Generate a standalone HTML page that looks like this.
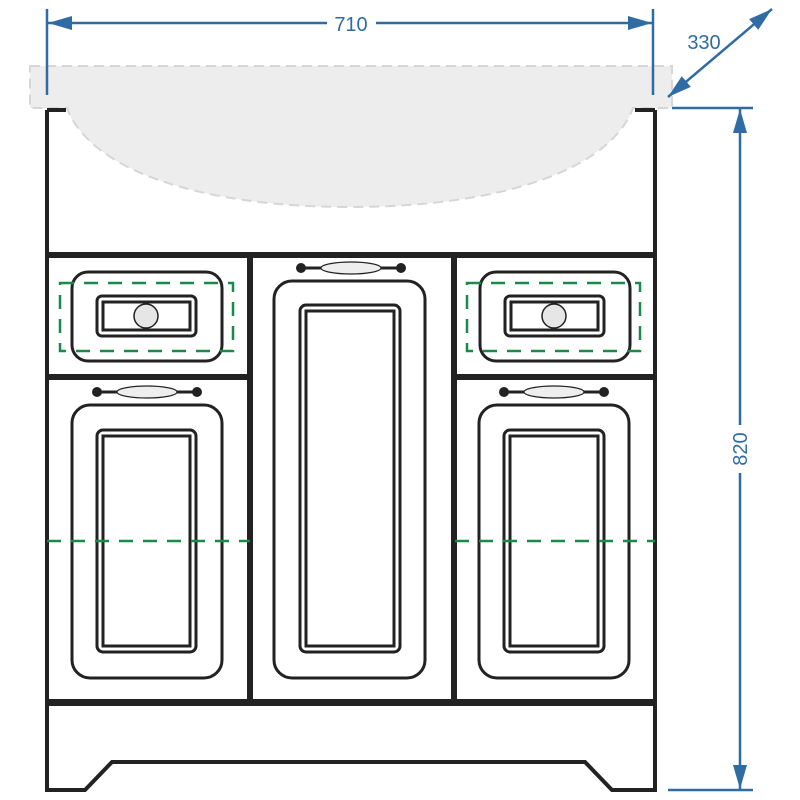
<!DOCTYPE html>
<html><head><style>body{margin:0;background:#fff}svg{display:block}</style></head><body>
<svg width="800" height="800" viewBox="0 0 800 800" xmlns="http://www.w3.org/2000/svg">
<defs>
<marker id="a" viewBox="0 0 10 10" refX="10" refY="5" markerWidth="8" markerHeight="8" markerUnits="userSpaceOnUse" orient="auto-start-reverse"><path d="M0,0L10,5L0,10z" fill="#2f6ca4"/></marker>
<marker id="b" viewBox="0 0 24 14" refX="24" refY="7" markerWidth="24" markerHeight="14" markerUnits="userSpaceOnUse" orient="auto-start-reverse"><path d="M0,0L24,7L0,14z" fill="#2f6ca4"/></marker>
</defs>
<!-- countertop -->
<path d="M30,66H672V108H633C610,170 500,207 350,207C200,207 90,170 67,108H30Z" fill="#ecedec" stroke="#d6d6d6" stroke-width="2" stroke-dasharray="10,6"/>
<g stroke="#222" stroke-width="4" fill="none">
<path d="M47,110V790H85L112,762H585L612,790H655V110"/>
<line x1="47" y1="110" x2="66" y2="110"/><line x1="635" y1="110" x2="655" y2="110"/>
</g>
<g fill="#222">
<rect x="47" y="252" width="608" height="6"/>
<rect x="247" y="252" width="6" height="452"/>
<rect x="451" y="252" width="6" height="452"/>
<rect x="47" y="374" width="202" height="6"/>
<rect x="455" y="374" width="200" height="6"/>
<rect x="47" y="699" width="608" height="7"/>
</g>
<g stroke="#222" stroke-width="3" fill="none">
<!-- drawers -->
<rect x="72" y="272" width="150" height="89" rx="16"/>
<rect x="97" y="296" width="99" height="40" rx="5"/>
<rect x="103" y="302" width="87" height="28"/>
<rect x="480" y="272" width="150" height="89" rx="16"/>
<rect x="505" y="296" width="99" height="40" rx="5"/>
<rect x="511" y="302" width="87" height="28"/>
<!-- doors -->
<rect x="72" y="405" width="150" height="273" rx="18"/>
<rect x="97" y="430" width="99" height="222" rx="6"/>
<rect x="103" y="436" width="87" height="210"/>
<rect x="479" y="405" width="150" height="273" rx="18"/>
<rect x="504" y="430" width="100" height="222" rx="6"/>
<rect x="510" y="436" width="88" height="210"/>
<rect x="274" y="281" width="151" height="397" rx="18"/>
<rect x="300" y="305" width="100" height="347" rx="6"/>
<rect x="306" y="311" width="88" height="335"/>
</g>
<g fill="#e6e6e6" stroke="#222" stroke-width="1.5">
<circle cx="146" cy="316" r="12"/><circle cx="554" cy="316" r="12"/>
</g>
<!-- handles -->
<g stroke="#222" stroke-width="3">
<line x1="97" y1="392" x2="197" y2="392"/><line x1="504" y1="392" x2="604" y2="392"/><line x1="301" y1="268" x2="401" y2="268"/>
</g>
<g fill="#222"><circle cx="97" cy="392" r="5"/><circle cx="197" cy="392" r="5"/><circle cx="504" cy="392" r="5"/><circle cx="604" cy="392" r="5"/><circle cx="301" cy="268" r="5"/><circle cx="401" cy="268" r="5"/></g>
<g fill="#eee" stroke="#222" stroke-width="1.2"><ellipse cx="147" cy="392" rx="30" ry="6"/><ellipse cx="554" cy="392" rx="30" ry="6"/><ellipse cx="351" cy="268" rx="30" ry="6"/></g>
<!-- green dashed -->
<g stroke="#1a8a4a" stroke-width="2.5" fill="none" stroke-dasharray="14,10">
<rect x="60" y="283" width="173" height="68"/>
<rect x="467" y="283" width="173" height="68"/>
<line x1="47" y1="541" x2="250" y2="541"/>
<line x1="455" y1="541" x2="655" y2="541"/>
</g>
<!-- dimensions -->
<g stroke="#2f6ca4" stroke-width="2.5" fill="none">
<line x1="47" y1="9" x2="47" y2="95"/><line x1="653" y1="9" x2="653" y2="95"/>
<line x1="48" y1="23" x2="327" y2="23" marker-start="url(#b)"/>
<line x1="376" y1="23" x2="652" y2="23" marker-end="url(#b)"/>
<line x1="668" y1="97" x2="772" y2="9" marker-start="url(#b)" marker-end="url(#b)"/>
<line x1="672" y1="108" x2="753" y2="108"/><line x1="668" y1="790" x2="753" y2="790"/>
<line x1="740" y1="109" x2="740" y2="425" marker-start="url(#b)"/>
<line x1="740" y1="473" x2="740" y2="789" marker-end="url(#b)"/>
</g>
<g fill="#2f6ca4" font-family="Liberation Sans, sans-serif" font-size="20">
<text x="351" y="31" text-anchor="middle">710</text>
<text x="704" y="49" text-anchor="middle">330</text>
<text transform="translate(747,449) rotate(-90)" text-anchor="middle">820</text>
</g>
</svg>
</body></html>
